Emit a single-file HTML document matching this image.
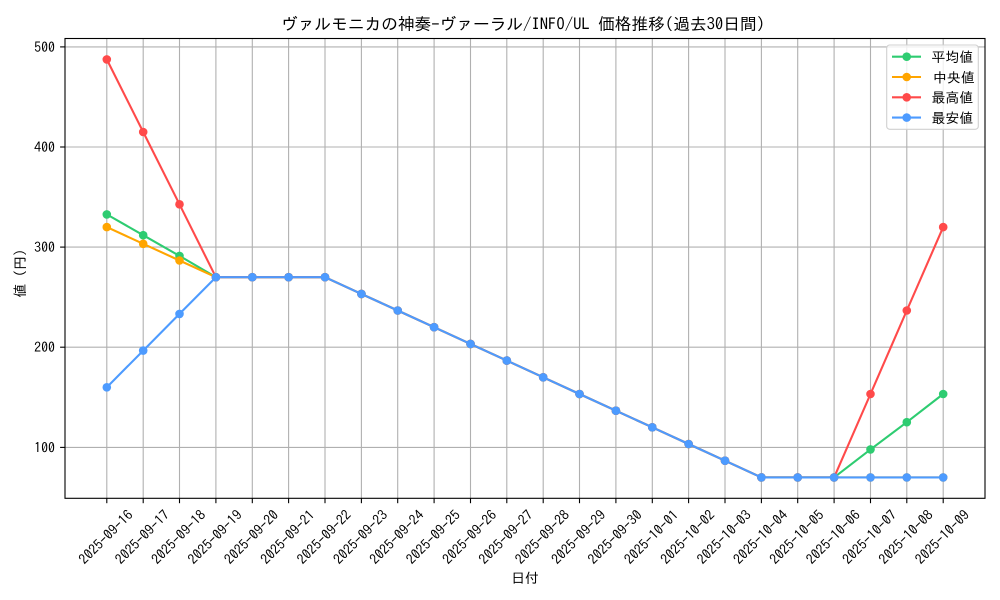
<!DOCTYPE html>
<html>
<head>
<meta charset="utf-8">
<style>
  html, body { margin: 0; padding: 0; background: #ffffff; }
  svg { display: block; }
  text { font-family: "IPAGothic", "Liberation Sans", "Noto Sans CJK JP", sans-serif; fill: #000; }
</style>
</head>
<body>
<svg width="1000" height="600" viewBox="0 0 1000 600" xmlns="http://www.w3.org/2000/svg">
  <defs>
    <marker id="mg" markerUnits="userSpaceOnUse" markerWidth="12" markerHeight="12" refX="6" refY="6" viewBox="0 0 12 12"><circle cx="6" cy="6" r="4.3" fill="#2ecc71"/></marker>
    <marker id="mo" markerUnits="userSpaceOnUse" markerWidth="12" markerHeight="12" refX="6" refY="6" viewBox="0 0 12 12"><circle cx="6" cy="6" r="4.3" fill="#ffa500"/></marker>
    <marker id="mr" markerUnits="userSpaceOnUse" markerWidth="12" markerHeight="12" refX="6" refY="6" viewBox="0 0 12 12"><circle cx="6" cy="6" r="4.3" fill="#ff4a4a"/></marker>
    <marker id="mb" markerUnits="userSpaceOnUse" markerWidth="12" markerHeight="12" refX="6" refY="6" viewBox="0 0 12 12"><circle cx="6" cy="6" r="4.3" fill="#4d9bff"/></marker>
  </defs>

  <rect x="0" y="0" width="1000" height="600" fill="#fff"/>

  <!-- Grid -->
  <g stroke="#b0b0b0" stroke-width="1.1">
    <line x1="106.8" y1="38.5" x2="106.8" y2="498.3"/>
    <line x1="143.2" y1="38.5" x2="143.2" y2="498.3"/>
    <line x1="179.5" y1="38.5" x2="179.5" y2="498.3"/>
    <line x1="215.9" y1="38.5" x2="215.9" y2="498.3"/>
    <line x1="252.3" y1="38.5" x2="252.3" y2="498.3"/>
    <line x1="288.6" y1="38.5" x2="288.6" y2="498.3"/>
    <line x1="325.0" y1="38.5" x2="325.0" y2="498.3"/>
    <line x1="361.4" y1="38.5" x2="361.4" y2="498.3"/>
    <line x1="397.7" y1="38.5" x2="397.7" y2="498.3"/>
    <line x1="434.1" y1="38.5" x2="434.1" y2="498.3"/>
    <line x1="470.5" y1="38.5" x2="470.5" y2="498.3"/>
    <line x1="506.8" y1="38.5" x2="506.8" y2="498.3"/>
    <line x1="543.2" y1="38.5" x2="543.2" y2="498.3"/>
    <line x1="579.5" y1="38.5" x2="579.5" y2="498.3"/>
    <line x1="615.9" y1="38.5" x2="615.9" y2="498.3"/>
    <line x1="652.3" y1="38.5" x2="652.3" y2="498.3"/>
    <line x1="688.6" y1="38.5" x2="688.6" y2="498.3"/>
    <line x1="725.0" y1="38.5" x2="725.0" y2="498.3"/>
    <line x1="761.4" y1="38.5" x2="761.4" y2="498.3"/>
    <line x1="797.7" y1="38.5" x2="797.7" y2="498.3"/>
    <line x1="834.1" y1="38.5" x2="834.1" y2="498.3"/>
    <line x1="870.5" y1="38.5" x2="870.5" y2="498.3"/>
    <line x1="906.8" y1="38.5" x2="906.8" y2="498.3"/>
    <line x1="943.2" y1="38.5" x2="943.2" y2="498.3"/>
    <line x1="65" y1="46.9" x2="985" y2="46.9"/>
    <line x1="65" y1="147.0" x2="985" y2="147.0"/>
    <line x1="65" y1="247.1" x2="985" y2="247.1"/>
    <line x1="65" y1="347.2" x2="985" y2="347.2"/>
    <line x1="65" y1="447.4" x2="985" y2="447.4"/>
  </g>

  <!-- Series -->
  <g fill="none" stroke-width="2.1" stroke-linejoin="round" stroke-linecap="butt">
    <polyline stroke="#2ecc71" marker-start="url(#mg)" marker-mid="url(#mg)" marker-end="url(#mg)"
      points="106.8,214.4 143.2,235.2 179.5,255.9 215.9,277.2 252.3,277.2 288.6,277.2 325.0,277.2 361.4,293.9 397.7,310.5 434.1,327.2 470.5,343.9 506.8,360.6 543.2,377.3 579.5,394.0 615.9,410.7 652.3,427.3 688.6,444.0 725.0,460.7 761.4,477.4 797.7,477.4 834.1,477.4 870.5,449.4 906.8,422.2 943.2,394.0"/>
    <polyline stroke="#ffa500" marker-start="url(#mo)" marker-mid="url(#mo)" marker-end="url(#mo)"
      points="106.8,227.1 143.2,243.8 179.5,260.5 215.9,277.2 252.3,277.2 288.6,277.2 325.0,277.2 361.4,293.9 397.7,310.5 434.1,327.2 470.5,343.9 506.8,360.6 543.2,377.3 579.5,394.0 615.9,410.7 652.3,427.3 688.6,444.0 725.0,460.7 761.4,477.4 797.7,477.4 834.1,477.4 870.5,477.4 906.8,477.4 943.2,477.4"/>
    <polyline stroke="#ff4a4a" marker-start="url(#mr)" marker-mid="url(#mr)" marker-end="url(#mr)"
      points="106.8,59.4 143.2,132.0 179.5,204.3 215.9,277.2 252.3,277.2 288.6,277.2 325.0,277.2 361.4,293.9 397.7,310.5 434.1,327.2 470.5,343.9 506.8,360.6 543.2,377.3 579.5,394.0 615.9,410.7 652.3,427.3 688.6,444.0 725.0,460.7 761.4,477.4 797.7,477.4 834.1,477.4 870.5,394.0 906.8,310.5 943.2,227.1"/>
    <polyline stroke="#4d9bff" marker-start="url(#mb)" marker-mid="url(#mb)" marker-end="url(#mb)"
      points="106.8,387.3 143.2,350.6 179.5,313.9 215.9,277.2 252.3,277.2 288.6,277.2 325.0,277.2 361.4,293.9 397.7,310.5 434.1,327.2 470.5,343.9 506.8,360.6 543.2,377.3 579.5,394.0 615.9,410.7 652.3,427.3 688.6,444.0 725.0,460.7 761.4,477.4 797.7,477.4 834.1,477.4 870.5,477.4 906.8,477.4 943.2,477.4"/>
  </g>

  <!-- Spines -->
  <rect x="65" y="38.5" width="920" height="459.8" fill="none" stroke="#000" stroke-width="1.1"/>

  <!-- Ticks -->
  <g stroke="#000" stroke-width="1.1">
    <line x1="60.1" y1="46.9" x2="65" y2="46.9"/>
    <line x1="60.1" y1="147.0" x2="65" y2="147.0"/>
    <line x1="60.1" y1="247.1" x2="65" y2="247.1"/>
    <line x1="60.1" y1="347.2" x2="65" y2="347.2"/>
    <line x1="60.1" y1="447.4" x2="65" y2="447.4"/>
    <line x1="106.8" y1="498.3" x2="106.8" y2="503.2"/>
    <line x1="143.2" y1="498.3" x2="143.2" y2="503.2"/>
    <line x1="179.5" y1="498.3" x2="179.5" y2="503.2"/>
    <line x1="215.9" y1="498.3" x2="215.9" y2="503.2"/>
    <line x1="252.3" y1="498.3" x2="252.3" y2="503.2"/>
    <line x1="288.6" y1="498.3" x2="288.6" y2="503.2"/>
    <line x1="325.0" y1="498.3" x2="325.0" y2="503.2"/>
    <line x1="361.4" y1="498.3" x2="361.4" y2="503.2"/>
    <line x1="397.7" y1="498.3" x2="397.7" y2="503.2"/>
    <line x1="434.1" y1="498.3" x2="434.1" y2="503.2"/>
    <line x1="470.5" y1="498.3" x2="470.5" y2="503.2"/>
    <line x1="506.8" y1="498.3" x2="506.8" y2="503.2"/>
    <line x1="543.2" y1="498.3" x2="543.2" y2="503.2"/>
    <line x1="579.5" y1="498.3" x2="579.5" y2="503.2"/>
    <line x1="615.9" y1="498.3" x2="615.9" y2="503.2"/>
    <line x1="652.3" y1="498.3" x2="652.3" y2="503.2"/>
    <line x1="688.6" y1="498.3" x2="688.6" y2="503.2"/>
    <line x1="725.0" y1="498.3" x2="725.0" y2="503.2"/>
    <line x1="761.4" y1="498.3" x2="761.4" y2="503.2"/>
    <line x1="797.7" y1="498.3" x2="797.7" y2="503.2"/>
    <line x1="834.1" y1="498.3" x2="834.1" y2="503.2"/>
    <line x1="870.5" y1="498.3" x2="870.5" y2="503.2"/>
    <line x1="906.8" y1="498.3" x2="906.8" y2="503.2"/>
    <line x1="943.2" y1="498.3" x2="943.2" y2="503.2"/>
  </g>

  <!-- Y tick labels -->
  <g font-size="13.9" text-anchor="end" dominant-baseline="central">
    <text x="55" y="46.9">500</text>
    <text x="55" y="147.0">400</text>
    <text x="55" y="247.1">300</text>
    <text x="55" y="347.2">200</text>
    <text x="55" y="447.4">100</text>
  </g>

  <!-- X tick labels -->
  <g font-size="13.9" text-anchor="middle" dominant-baseline="central">
    <text transform="translate(105.8,537) rotate(-45)">2025-09-16</text>
    <text transform="translate(142.2,537) rotate(-45)">2025-09-17</text>
    <text transform="translate(178.5,537) rotate(-45)">2025-09-18</text>
    <text transform="translate(214.9,537) rotate(-45)">2025-09-19</text>
    <text transform="translate(251.3,537) rotate(-45)">2025-09-20</text>
    <text transform="translate(287.6,537) rotate(-45)">2025-09-21</text>
    <text transform="translate(324.0,537) rotate(-45)">2025-09-22</text>
    <text transform="translate(360.4,537) rotate(-45)">2025-09-23</text>
    <text transform="translate(396.7,537) rotate(-45)">2025-09-24</text>
    <text transform="translate(433.1,537) rotate(-45)">2025-09-25</text>
    <text transform="translate(469.5,537) rotate(-45)">2025-09-26</text>
    <text transform="translate(505.8,537) rotate(-45)">2025-09-27</text>
    <text transform="translate(542.2,537) rotate(-45)">2025-09-28</text>
    <text transform="translate(578.5,537) rotate(-45)">2025-09-29</text>
    <text transform="translate(614.9,537) rotate(-45)">2025-09-30</text>
    <text transform="translate(651.3,537) rotate(-45)">2025-10-01</text>
    <text transform="translate(687.6,537) rotate(-45)">2025-10-02</text>
    <text transform="translate(724.0,537) rotate(-45)">2025-10-03</text>
    <text transform="translate(760.4,537) rotate(-45)">2025-10-04</text>
    <text transform="translate(796.7,537) rotate(-45)">2025-10-05</text>
    <text transform="translate(833.1,537) rotate(-45)">2025-10-06</text>
    <text transform="translate(869.5,537) rotate(-45)">2025-10-07</text>
    <text transform="translate(905.8,537) rotate(-45)">2025-10-08</text>
    <text transform="translate(942.2,537) rotate(-45)">2025-10-09</text>
  </g>

  <!-- Axis labels -->
  <text x="525" y="583" font-size="13.9" text-anchor="middle">日付</text>
  <text transform="translate(20,270) rotate(-90)" font-size="13.9" text-anchor="middle" dominant-baseline="central">値（円）</text>

  <!-- Title -->
  <text x="523" y="30" font-size="16.7" text-anchor="middle">ヴァルモニカの神奏-ヴァーラル/INFO/UL 価格推移(過去30日間)</text>

  <!-- Legend -->
  <rect x="886.7" y="45" width="91.6" height="84.3" rx="3" ry="3" fill="#ffffff" fill-opacity="0.8" stroke="#d0d0d0" stroke-width="1.1"/>
  <g stroke-width="2.1">
    <line x1="892" y1="56.7" x2="921" y2="56.7" stroke="#2ecc71"/>
    <circle cx="906.7" cy="56.7" r="4.3" fill="#2ecc71" stroke="none"/>
    <line x1="892" y1="77.0" x2="921" y2="77.0" stroke="#ffa500"/>
    <circle cx="906.7" cy="77.0" r="4.3" fill="#ffa500" stroke="none"/>
    <line x1="892" y1="97.3" x2="921" y2="97.3" stroke="#ff4a4a"/>
    <circle cx="906.7" cy="97.3" r="4.3" fill="#ff4a4a" stroke="none"/>
    <line x1="892" y1="117.6" x2="921" y2="117.6" stroke="#4d9bff"/>
    <circle cx="906.7" cy="117.6" r="4.3" fill="#4d9bff" stroke="none"/>
  </g>
  <g font-size="13.9" dominant-baseline="central">
    <text x="931.5" y="57">平均値</text>
    <text x="933" y="77.3">中央値</text>
    <text x="931.5" y="97.6">最高値</text>
    <text x="931.5" y="117.9">最安値</text>
  </g>
</svg>
</body>
</html>
